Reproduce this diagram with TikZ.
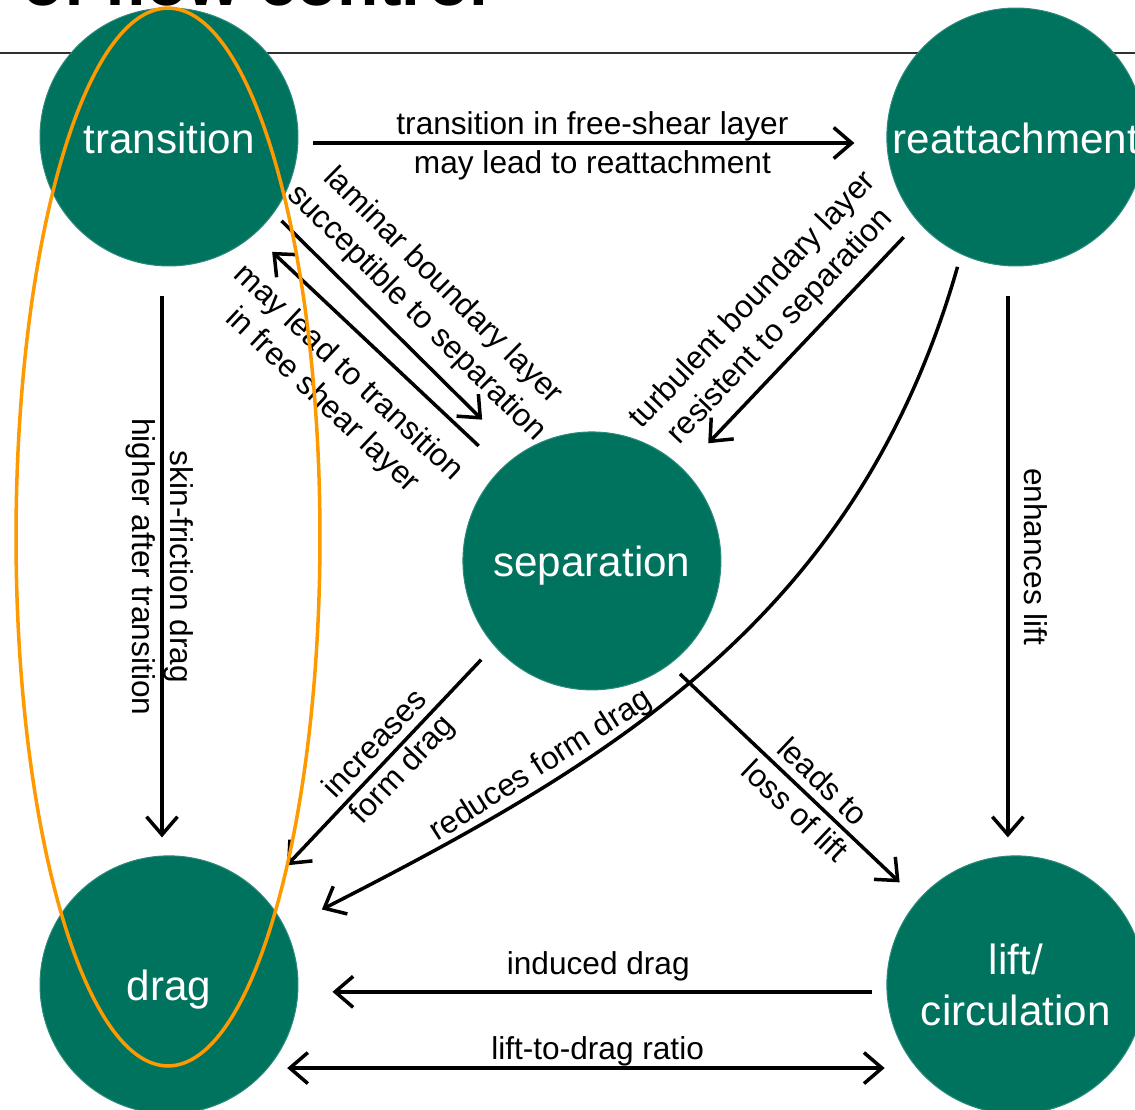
\documentclass[tikz,border=0pt]{standalone}
\usepackage{fontspec}
\setmainfont{Liberation Sans}
\usepackage{tikz}
\usetikzlibrary{positioning,arrows.meta}
\definecolor{flowteal}{HTML}{00735F}
\definecolor{flowrim}{HTML}{2B8A7B}
\definecolor{flowhalo}{HTML}{FF9900}
\definecolor{rulegray}{HTML}{303030}

\begin{document}
\begin{tikzpicture}[x=0.02cm, y=-0.02cm, on grid,
    >={Straight Barb[length=0.36cm, width=0.62cm]},
    bubble/.style={circle, fill=flowteal, draw=flowrim, line width=0.02cm, minimum size=5.16cm,
      inner sep=0pt, text=white, align=center, font=\fontsize{24}{28.8}\selectfont},
    oneline/.style={text height=0.64cm, text depth=0pt},
    flow/.style={line width=0.07cm, ->},
    note/.style={text=black, align=center, font=\fontsize{18}{21.6}\selectfont},
    tag/.style={text=black, font=\fontsize{18}{21.6}\selectfont, text height=0.46cm, text depth=0.14cm}]
    \useasboundingbox (0,0) rectangle (1135,1109);
    \clip (0,0) rectangle (1135,1109);

    % heading, mostly cut off
    \node[anchor=base west, inner sep=0pt, font=\fontsize{38.5}{46}\selectfont\bfseries] (title) at (22,5) {of flow control};
    \draw[rulegray, line width=0.04cm] (0,53) -- (1135,53);

    \node[bubble, oneline] (transition) at (169,137) {transition};
    \node[bubble, oneline, right=16.94cm of transition] (reattachment) {reattachment};
    \node[bubble, oneline, below right=8.48cm and 8.46cm of transition] (separation) {separation};
    \node[bubble, oneline, below=16.96cm of transition] (drag) {drag};
    \node[bubble, right=16.94cm of drag] (lift) {lift/\\circulation};

    \draw ([yshift=-0.12cm]transition.east) edge[flow, shorten <=0.3cm, shorten >=0.64cm]
        node[tag, midway, above, inner sep=0pt] (lblFreeShear) {transition in free-shear layer}
        node[tag, midway, below, inner sep=0.12cm] (lblReattach) {may lead to reattachment}
        ([yshift=-0.12cm]reattachment.west);
    \draw (transition.-36) edge[flow, shorten <=0.22cm, shorten >=1cm]
        node[note, pos=0.5, sloped, above, inner sep=0.25cm] (lblLaminar) {laminar boundary layer\\succeptible to separation}
        (separation.125);
    \draw (separation.134) edge[flow, shorten <=0.64cm, shorten >=0.5cm]
        node[note, pos=0.52, sloped, below, inner sep=0.4cm] (lblMayLead) {may lead to transition\\in free shear layer}
        (transition.-49);
    \draw (reattachment.-139) edge[flow, shorten <=0.42cm, shorten >=0.72cm]
        node[note, midway, sloped, above, inner sep=0.22cm] (lblTurbulent) {turbulent boundary layer\\resistent to separation}
        (separation.45);
    \draw (reattachment.-115) edge[flow, out=-106, in=27, shorten <=0.26cm, shorten >=0.82cm]
        node[note, pos=0.71, sloped, above, inner sep=0.02cm] (lblReduces) {reduces form drag}
        (drag.26);
    \draw (separation.-139) edge[flow, shorten <=0.38cm, shorten >=0.77cm]
        node[tag, pos=0.45, sloped, above, inner sep=0.02cm] (lblIncreases) {increases}
        node[tag, pos=0.45, sloped, below, inner sep=0.06cm] (lblFormDrag) {form drag}
        (drag.45);
    \draw (separation.-53) edge[flow, shorten <=0.28cm, shorten >=0.51cm]
        node[tag, pos=0.56, sloped, above, inner sep=0.02cm] (lblLeads) {leads to}
        node[tag, pos=0.56, sloped, below, inner sep=0.12cm] (lblLoss) {loss of lift}
        (lift.139);
    \draw ([xshift=-0.14cm]transition.south) edge[flow, shorten <=0.6cm, shorten >=0.36cm]
        node[tag, pos=0.51, sloped, above, inner sep=0pt] (lblSkin) {skin-friction drag}
        node[tag, pos=0.51, sloped, below, inner sep=0.1cm] (lblHigher) {higher after transition}
        ([xshift=-0.14cm]drag.north);
    \draw ([xshift=-0.16cm]reattachment.south) edge[flow, shorten <=0.6cm, shorten >=0.36cm]
        node[tag, pos=0.493, sloped, above, inner sep=0.16cm] (lblEnhances) {enhances lift}
        ([xshift=-0.16cm]lift.north);
    \draw ([yshift=-0.14cm]lift.west) edge[flow, shorten <=0.28cm, shorten >=0.68cm]
        node[tag, pos=0.49, above, inner sep=0.18cm] (lblInduced) {induced drag}
        ([yshift=-0.14cm]drag.east);
    \draw (drag.-40) edge[flow, <->, shorten <=0.38cm, shorten >=0.64cm]
        node[tag, pos=0.508, above, inner sep=0pt] (lblRatio) {lift-to-drag ratio}
        (lift.-140);

    % highlight round the left column
    \draw[flowhalo, line width=0.07cm] (168,537) ellipse [x radius=3.04cm, y radius=10.58cm];
\end{tikzpicture}
\end{document}
